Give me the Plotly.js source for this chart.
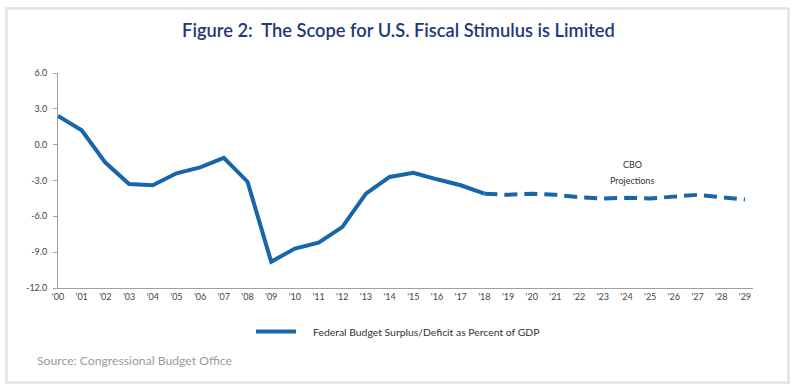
<!DOCTYPE html>
<html>
<head>
<meta charset="utf-8">
<script src="https://cdn.plot.ly/plotly-3.0.1.min.js"></script>
<style>
html,body{margin:0;padding:0;background:#fff;}
#chart{width:797px;height:392px;}
</style>
</head>
<body>
<div id="chart"></div>
<script>
// Data
var years = ["'00","'01","'02","'03","'04","'05","'06","'07","'08","'09","'10","'11","'12","'13","'14","'15","'16","'17","'18","'19","'20","'21","'22","'23","'24","'25","'26","'27","'28","'29"];
var histYears = years.slice(0, 19);
var histValues = [2.4, 1.2, -1.5, -3.3, -3.4, -2.4, -1.9, -1.1, -3.1, -9.8, -8.7, -8.2, -6.9, -4.1, -2.7, -2.35, -2.9, -3.4, -4.1];
var projYears = years.slice(18);
var projValues = [-4.1, -4.2, -4.1, -4.2, -4.4, -4.5, -4.45, -4.5, -4.35, -4.2, -4.4, -4.6];
var yTickVals = [6, 3, 0, -3, -6, -9, -12];
var yTickText = ["6.0", "3.0", "0.0", "-3.0", "-6.0", "-9.0", "-12.0"];
var seriesName = "Federal Budget Surplus/Deficit as Percent of GDP";

var L = 58, R = 753, T = 73, B = 288, W = 797, H = 392;
function px(x){ return (x - L) / (R - L); }
function py(y){ return (B - y) / (B - T); }

var lineColor = '#1666a9';
var traces = [
  {x: histYears, y: histValues, type: 'scatter', mode: 'lines', name: seriesName,
   line: {color: lineColor, width: 4}, showlegend: false, hoverinfo: 'x+y'},
  {x: projYears, y: projValues, type: 'scatter', mode: 'lines', name: 'CBO Projections',
   line: {color: lineColor, width: 4, dash: '13px,7px'}, showlegend: false, hoverinfo: 'x+y'}
];

var layout = {
  width: W, height: H,
  margin: {l: L, r: W - R, t: T, b: H - B, pad: 0},
  paper_bgcolor: '#fff', plot_bgcolor: '#fff',
  font: {family: 'Lato, "Open Sans", sans-serif', color: '#444', size: 9},
  title: {text: 'Figure 2:  The Scope for U.S. Fiscal Stimulus is Limited',
          font: {family: 'Lato, sans-serif', size: 18.3, color: '#1f3a78', weight: 600},
          x: 0.5, xanchor: 'center', xref: 'container', y: 1 - 31 / H, yanchor: 'middle', yref: 'container'},
  xaxis: {type: 'category', categoryorder: 'array', categoryarray: years,
          range: [0, 29.34], showgrid: false, zeroline: false, showline: true,
          linecolor: '#a0a0a0', linewidth: 1, ticks: '', tickfont: {size: 9, color: '#444'},
          fixedrange: true},
  yaxis: {range: [-12, 6], tickvals: yTickVals, ticktext: yTickText, showgrid: false,
          zeroline: false, showline: true, linecolor: '#a0a0a0', linewidth: 1,
          ticks: 'outside', ticklen: 4, tickcolor: '#a0a0a0', tickfont: {size: 9, color: '#444'},
          ticklabelstandoff: 4, fixedrange: true},
  showlegend: false,
  annotations: [
    {text: 'CBO', xref: 'paper', yref: 'paper', x: px(632), y: py(164), showarrow: false,
     font: {size: 9, color: '#333'}, xanchor: 'center', yanchor: 'middle'},
    {text: 'Projections', xref: 'paper', yref: 'paper', x: px(632), y: py(180), showarrow: false,
     font: {size: 9, color: '#333'}, xanchor: 'center', yanchor: 'middle'},
    {text: seriesName, xref: 'paper', yref: 'paper', x: px(311), y: py(331.5), showarrow: false,
     font: {size: 10.4, color: '#333'}, xanchor: 'left', yanchor: 'middle'},
    {text: 'Source: Congressional Budget Office', xref: 'paper', yref: 'paper', x: px(35), y: py(360),
     showarrow: false, xanchor: 'left', yanchor: 'middle',
     font: {family: 'Lato, sans-serif', size: 12.2, color: '#9a9a9a'}}
  ],
  shapes: [
    {type: 'rect', xref: 'paper', yref: 'paper', x0: px(6.5), x1: px(788.5), y0: py(382.5), y1: py(8.5),
     line: {color: '#e2e2e2', width: 2.5}, fillcolor: 'rgba(0,0,0,0)', layer: 'below'},
    // legend key line
    {type: 'line', xref: 'paper', yref: 'paper', x0: px(256), x1: px(296), y0: py(331.5), y1: py(331.5),
     line: {color: lineColor, width: 4}}
  ]
};

Plotly.newPlot('chart', traces, layout, {displayModeBar: false, staticPlot: true});
</script>
</body>
</html>
